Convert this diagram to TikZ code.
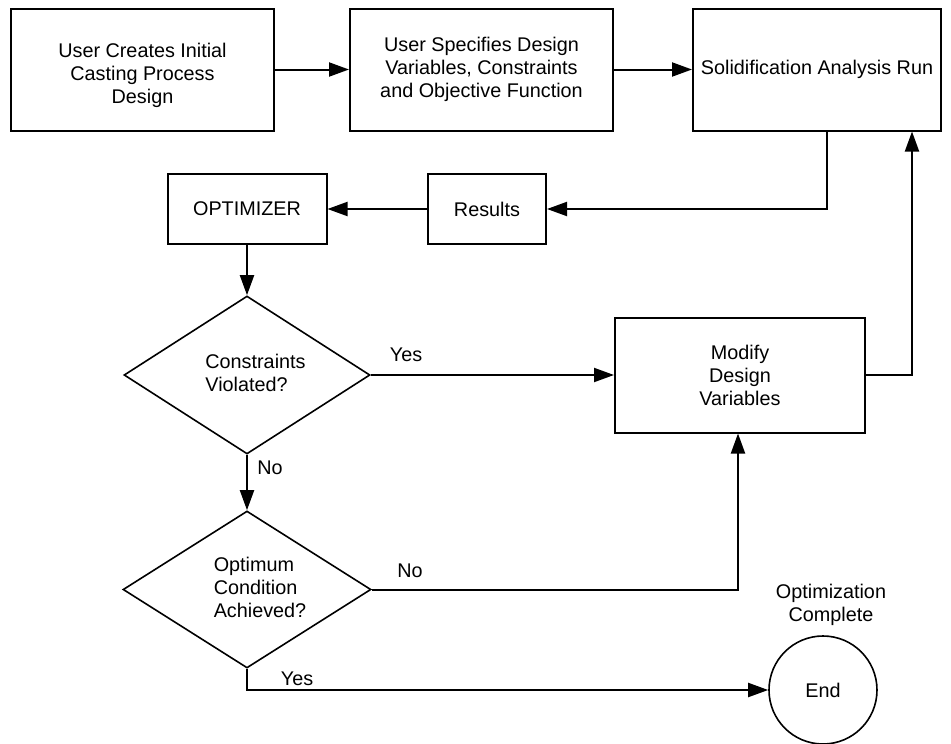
\documentclass[tikz,border=0pt]{standalone}
\usepackage{fontspec}
\setmainfont{Liberation Sans}
\usetikzlibrary{shapes.geometric,arrows.meta,calc}
\begin{document}
\begin{tikzpicture}[x=1pt,y=-1pt,
  every node/.style={font=\fontsize{19.8}{23}\selectfont, inner sep=0pt},
  box/.style={draw, rectangle, line width=2pt, align=center},
  dia/.style={draw, diamond, aspect=1.56, line width=1.6pt},
  conn/.style={line width=2pt, -{Triangle[length=20pt,width=14pt]}},
  plain/.style={line width=2pt}]
\useasboundingbox (0,0) rectangle (951,744);
\node[box, minimum width=263pt, minimum height=122pt] (b1) at (142.5,69.5) {\begin{tabular}{@{}c@{}}\\[-11pt]User Creates Initial\\Casting Process\\Design\end{tabular}};
\node[box, minimum width=263pt, minimum height=122pt] (b2) at (481.5,69.5) {User Specifies Design\\Variables, Constraints\\and Objective Function};
\node[box, minimum width=248pt, minimum height=122pt] (b3) at (817,69.5) {Solidification Analysis Run};
\node[box, minimum width=118pt, minimum height=70pt] (res) at (487,209) {Results};
\node[box, minimum width=159pt, minimum height=70pt] (opt) at (247,209) {OPTIMIZER};
\node[box, minimum width=250pt, minimum height=115pt] (mod) at (740,375) {Modify\\Design\\Variables};
\node[dia, minimum width=246pt, minimum height=158pt] (d1) at (247,375) {\begin{tabular}{@{\hspace{17pt}}l@{}}Constraints\\Violated?\end{tabular}};
\node[dia, minimum width=248pt, minimum height=157pt] (d2) at (247,589.5) {\begin{tabular}{@{\hspace{26pt}}l@{}}Optimum\\Condition\\Achieved?\end{tabular}};
\node[draw, circle, line width=1.6pt, minimum size=108pt] (end) at (823,690) {End};
\node[align=center] (oc) at (831,605) {Optimization\\Complete};
\node (y1) at (406,355) {Yes};
\node (n1) at (270,468) {No};
\node (n2) at (410,571) {No};
\node (y2) at (297,679) {Yes};
\draw[conn] (b1.east) -- (b2.west);
\draw[conn] (b2.east) -- (b3.west);
\draw[conn] ([xshift=10pt]b3.south) |- (res.east);
\draw[conn] (res.west) -- (opt.east);
\draw[conn] (opt.south) -- (d1.north);
\draw[conn] (d1.east) -- (mod.west);
\draw[conn] (d1.south) -- (d2.north);
\draw[conn] (d2.east) -| ([xshift=-2pt]mod.south);
\draw[conn] (mod.east) -| ([xshift=95pt]b3.south);
\draw[conn] (d2.south) |- (end.west);
\end{tikzpicture}
\end{document}
